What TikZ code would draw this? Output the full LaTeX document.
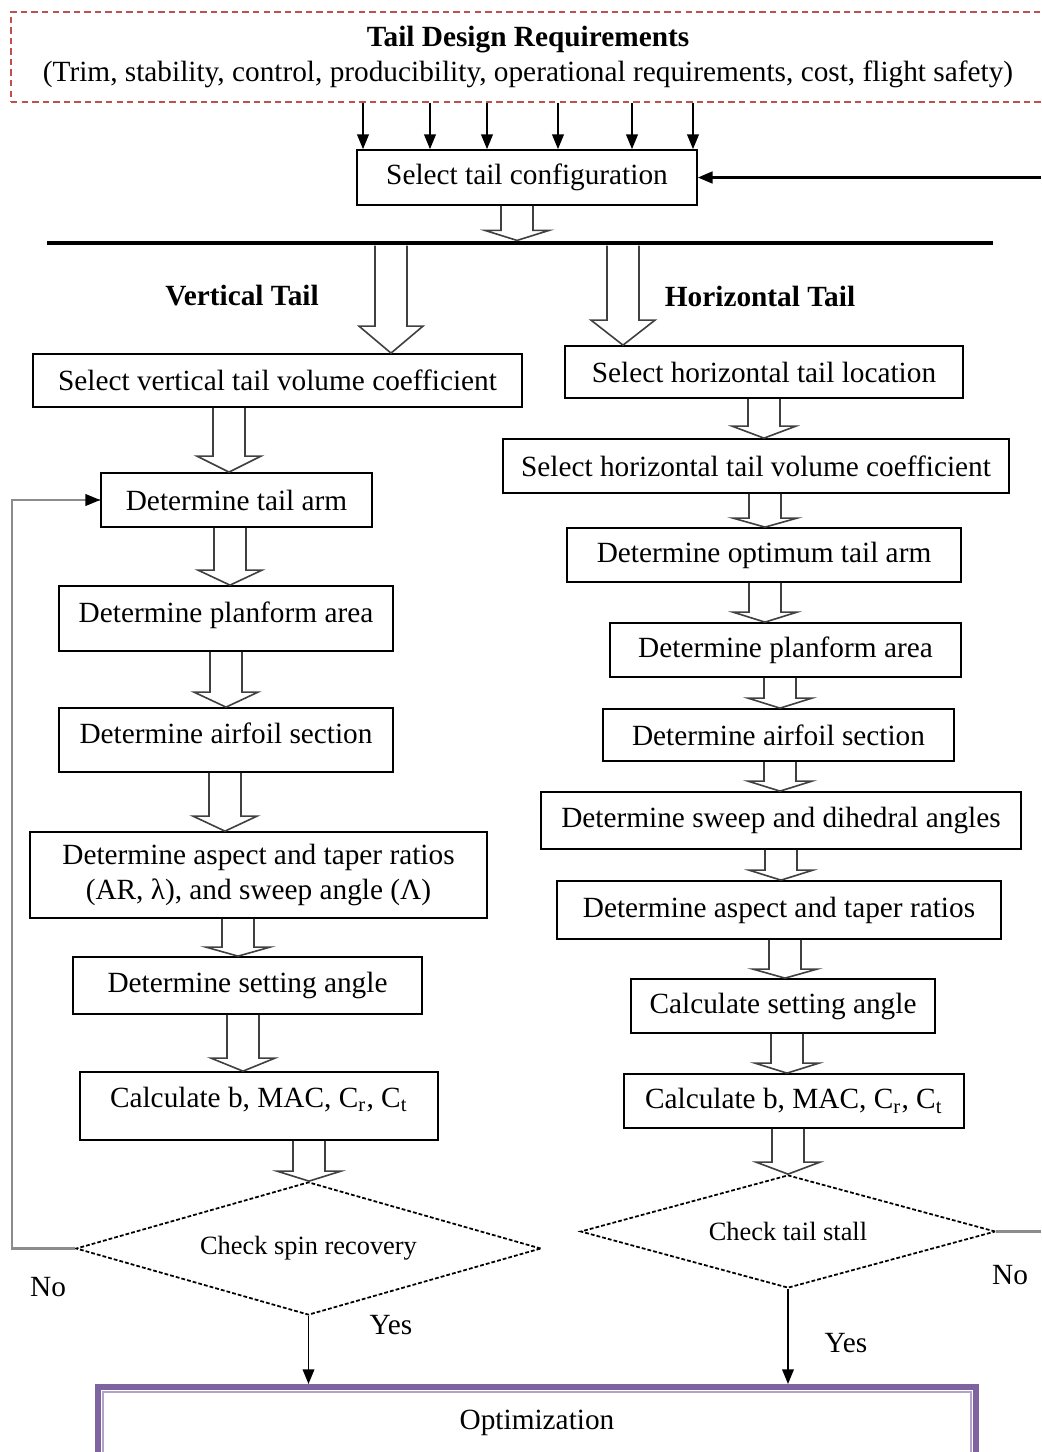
\documentclass[tikz,border=0pt]{standalone}
\usepackage{fontspec}
\setmainfont{Liberation Serif}
\usetikzlibrary{shapes.geometric,arrows.meta,calc}
\definecolor{reqred}{HTML}{C0504D}
\definecolor{optpurple}{HTML}{7F63A1}
\definecolor{optlight}{HTML}{B3A2C7}
\newcommand{\px}{0.012cm}
% hollow block arrow: x, upper node, lower node, head length
\newcommand{\blockarrow}[4]{%
  \draw[blockarr] let \p0=(#1,0), \p1=(#2.south), \p2=(#3.north) in
    (\x0-16*\px,\y1) -- (\x0-16*\px,\y2+#4*\px) -- (\x0-32*\px,\y2+#4*\px)
    -- (\x0,\y2) -- (\x0+32*\px,\y2+#4*\px) -- (\x0+16*\px,\y2+#4*\px)
    -- (\x0+16*\px,\y1);}

\begin{document}
\begin{tikzpicture}[x=0.012cm,y=-0.012cm]
  \tikzset{
    sz/.style 2 args={minimum width=#1*\px,minimum height=#2*\px},
    box/.style={draw,line width=0.6pt,inner sep=2pt,align=center,
      font=\fontsize{10}{12}\selectfont},
    raised/.style={text depth=4.5pt},
    decision/.style={draw,diamond,inner sep=0pt,line width=0.6pt,
      dash pattern=on 1.3pt off 0.7pt,font=\fontsize{9}{11}\selectfont},
    heading/.style={font=\fontsize{10}{12}\selectfont\bfseries},
    lbl/.style={font=\fontsize{10}{12}\selectfont},
    thinarrow/.style={line width=0.5pt,-{Triangle[length=5pt,width=4pt]}},
    loopline/.style={line width=0.7pt,draw=black!45},
    blockarr/.style={line width=0.55pt,draw=black!75},
  }
  \useasboundingbox (0,0) rectangle (1041,1452);

  % requirements and configuration
  \node[box,draw=reqred,dash pattern=on 2.2pt off 1.4pt,sz={1034}{90}] (req) at (528,57)
    {\textbf{Tail Design Requirements}\\(Trim, stability, control, producibility, operational requirements, cost, flight safety)};
  \node[box,sz={340}{55}] (cfg) at (527,177.5) {Select tail configuration};
  \foreach \x in {363,430,487,558,632,693}
    \draw[thinarrow] (\x,0 |- req.south) -- (\x,0 |- cfg.north);
  \coordinate (fbR) at (1041,177.5);
  \draw[thinarrow,line width=0.8pt] (fbR) -- (cfg.east);

  \node[fill=black,inner sep=0pt,sz={946}{4}] (bar) at (520,243) {};
  \node[heading] (vhead) at (242,296) {Vertical Tail};
  \node[heading] (hhead) at (760,296) {Horizontal Tail};

  % vertical tail
  \node[box,sz={489}{53}] (vvol) at (277.5,380.5) {Select vertical tail volume coefficient};
  \node[box,sz={271}{54}] (varm) at (236.5,500) {Determine tail arm};
  \node[box,raised,sz={334}{65}] (varea) at (226,618.5) {Determine planform area};
  \node[box,raised,sz={334}{64}] (vfoil) at (226,740) {Determine airfoil section};
  \node[box,sz={457}{86}] (vasp) at (258.5,875)
    {Determine aspect and taper ratios\\(AR, λ), and sweep angle (Λ)};
  \node[box,sz={349}{57}] (vset) at (247.5,985.5) {Determine setting angle};
  \node[box,text depth=6pt,sz={358}{68}] (vcalc) at (259,1106)
    {Calculate b, MAC, C\textsubscript{r}, C\textsubscript{t}};
  \node[decision,aspect=3.5,sz={465}{133}] (vspin) at (308.5,1248.5) {Check spin recovery};

  % horizontal tail
  \node[box,sz={398}{52}] (hloc) at (764,372) {Select horizontal tail location};
  \node[box,sz={506}{54}] (hvol) at (756,466) {Select horizontal tail volume coefficient};
  \node[box,sz={394}{54}] (harm) at (764,555) {Determine optimum tail arm};
  \node[box,sz={351}{54}] (harea) at (785.5,650) {Determine planform area};
  \node[box,sz={351}{52}] (hfoil) at (778.5,735) {Determine airfoil section};
  \node[box,sz={480}{57}] (hsweep) at (781,820.5) {Determine sweep and dihedral angles};
  \node[box,sz={444}{58}] (hasp) at (779,910) {Determine aspect and taper ratios};
  \node[box,sz={304}{54}] (hset) at (783,1006) {Calculate setting angle};
  \node[box,sz={340}{54}] (hcalc) at (794,1101)
    {Calculate b, MAC, C\textsubscript{r}, C\textsubscript{t}};
  \node[decision,aspect=3.67,sz={415}{113}] (hstall) at (788,1231.5) {Check tail stall};

  % optimization
  \node[draw=optpurple,line width=2.1pt,sz={878}{71},font=\fontsize{10}{12}\selectfont] (opt)
    at (537,1422.5) {Optimization};
  \draw[optlight,line width=0.7pt] ($(opt.north west)+(8,8)$) rectangle ($(opt.south east)+(-8,-8)$);

  % block arrows
  \blockarrow{517}{cfg}{bar}{10}
  \blockarrow{391}{bar}{vvol}{27}
  \blockarrow{623}{bar}{hloc}{25}
  \blockarrow{229}{vvol}{varm}{16}
  \blockarrow{230}{varm}{varea}{15}
  \blockarrow{226}{varea}{vfoil}{15}
  \blockarrow{225}{vfoil}{vasp}{15}
  \blockarrow{238}{vasp}{vset}{9}
  \blockarrow{243}{vset}{vcalc}{13}
  \blockarrow{309}{vcalc}{vspin}{10}
  \blockarrow{764}{hloc}{hvol}{12}
  \blockarrow{765}{hvol}{harm}{9}
  \blockarrow{765}{harm}{harea}{10}
  \blockarrow{780}{harea}{hfoil}{10}
  \blockarrow{780}{hfoil}{hsweep}{10}
  \blockarrow{781}{hsweep}{hasp}{10}
  \blockarrow{785}{hasp}{hset}{9}
  \blockarrow{787}{hset}{hcalc}{10}
  \blockarrow{788}{hcalc}{hstall}{12}

  % decisions
  \draw[loopline] (vspin.west) -- ++(-63,0) |- (varm.west);
  \draw[thinarrow] ($(varm.west)+(-12,0)$) -- (varm.west);
  \node[lbl] (vno) at (48,1287) {No};
  \node[lbl] (vyes) at (391,1325) {Yes};
  \draw[thinarrow] (vspin.south) -- (vspin.south |- opt.north);
  \coordinate (noR) at (1041,1231.5);
  \draw[loopline] (hstall.east) -- (noR);
  \node[lbl] (hno) at (1010,1275) {No};
  \node[lbl] (hyes) at (846,1343) {Yes};
  \draw[thinarrow] (hstall.south) -- (hstall.south |- opt.north);
\end{tikzpicture}
\end{document}
